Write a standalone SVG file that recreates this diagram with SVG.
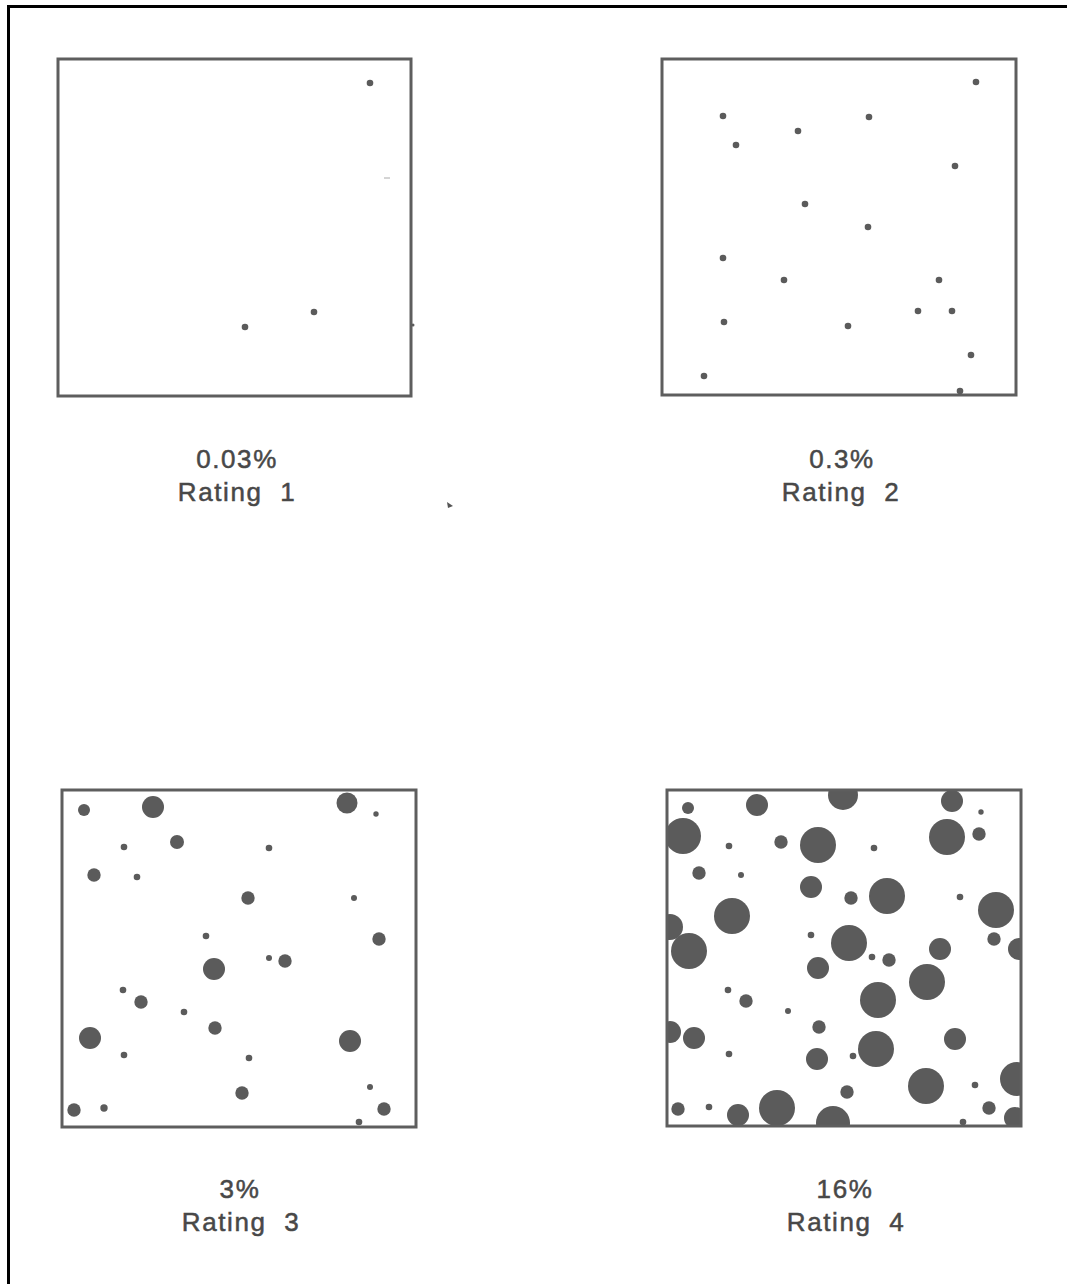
<svg xmlns="http://www.w3.org/2000/svg" width="1067" height="1284" viewBox="0 0 1067 1284">
<style>
.frame{stroke:#000;stroke-width:3;fill:none}
.box{fill:none;stroke:#5e5e5e;stroke-width:3}
.dot{fill:#5b5b5b}
.lbl{font-family:"Liberation Sans",Arial,sans-serif;font-size:26px;fill:#484848;stroke:#484848;stroke-width:0.5;text-anchor:middle;letter-spacing:1.6px;white-space:pre}
</style>
<defs>
<clipPath id="c3"><rect x="62" y="790" width="354" height="337"/></clipPath>
<clipPath id="c4"><rect x="667" y="790" width="354" height="336"/></clipPath>
</defs>
<rect width="1067" height="1284" fill="#fff"/>
<g id="frame">
<line class="frame" x1="7" y1="6.5" x2="1067" y2="6.5"/>
<line class="frame" x1="8.5" y1="5" x2="8.5" y2="1284"/>
</g>
<g id="panel1">
<rect class="box" x="58" y="59" width="353" height="337"/>
<circle class="dot" cx="370" cy="83" r="3.3"/>
<circle class="dot" cx="245" cy="327" r="3.3"/>
<circle class="dot" cx="314" cy="312" r="3.3"/>
<line x1="384" y1="178" x2="390" y2="178" stroke="#aaa" stroke-width="1"/>
<circle class="dot" cx="413" cy="325" r="1.5"/>
<text class="lbl" x="237" y="468">0.03%</text>
<text class="lbl" x="237" y="501">Rating  1</text>
</g>
<path d="M447 502 L453 506 L448 508 Z" fill="#555"/>
<g id="panel2">
<rect class="box" x="662" y="59" width="354" height="336"/>
<g class="dot">
<circle cx="976" cy="82" r="3.3"/>
<circle cx="723" cy="116" r="3.3"/>
<circle cx="869" cy="117" r="3.3"/>
<circle cx="798" cy="131" r="3.3"/>
<circle cx="736" cy="145" r="3.3"/>
<circle cx="955" cy="166" r="3.3"/>
<circle cx="805" cy="204" r="3.3"/>
<circle cx="868" cy="227" r="3.3"/>
<circle cx="723" cy="258" r="3.3"/>
<circle cx="784" cy="280" r="3.3"/>
<circle cx="939" cy="280" r="3.3"/>
<circle cx="918" cy="311" r="3.3"/>
<circle cx="952" cy="311" r="3.3"/>
<circle cx="724" cy="322" r="3.3"/>
<circle cx="848" cy="326" r="3.3"/>
<circle cx="971" cy="355" r="3.3"/>
<circle cx="704" cy="376" r="3.3"/>
<circle cx="960" cy="391" r="3.3"/>
</g>
<text class="lbl" x="842" y="468">0.3%</text>
<text class="lbl" x="841" y="501">Rating  2</text>
</g>
<g id="panel3">
<g class="dot" clip-path="url(#c3)">
<circle cx="84" cy="810" r="6"/>
<circle cx="153" cy="807" r="11"/>
<circle cx="347" cy="803" r="10.5"/>
<circle cx="376" cy="814" r="2.7"/>
<circle cx="124" cy="847" r="3.3"/>
<circle cx="177" cy="842" r="7"/>
<circle cx="269" cy="848" r="3.3"/>
<circle cx="94" cy="875" r="6.7"/>
<circle cx="137" cy="877" r="3.3"/>
<circle cx="248" cy="898" r="6.7"/>
<circle cx="354" cy="898" r="3"/>
<circle cx="206" cy="936" r="3.3"/>
<circle cx="379" cy="939" r="6.7"/>
<circle cx="269" cy="958" r="3"/>
<circle cx="285" cy="961" r="6.7"/>
<circle cx="214" cy="969" r="11"/>
<circle cx="123" cy="990" r="3.3"/>
<circle cx="141" cy="1002" r="6.7"/>
<circle cx="184" cy="1012" r="3.3"/>
<circle cx="215" cy="1028" r="6.7"/>
<circle cx="90" cy="1038" r="11"/>
<circle cx="350" cy="1041" r="11"/>
<circle cx="124" cy="1055" r="3.3"/>
<circle cx="249" cy="1058" r="3.3"/>
<circle cx="242" cy="1093" r="6.7"/>
<circle cx="370" cy="1087" r="3"/>
<circle cx="384" cy="1109" r="6.7"/>
<circle cx="74" cy="1110" r="6.7"/>
<circle cx="104" cy="1108" r="3.7"/>
<circle cx="359" cy="1122" r="3.3"/>
</g>
<rect class="box" x="62" y="790" width="354" height="337"/>
<text class="lbl" x="240" y="1198">3%</text>
<text class="lbl" x="241" y="1231">Rating  3</text>
</g>
<g id="panel4">
<g class="dot" clip-path="url(#c4)">
<circle cx="688" cy="808" r="6"/>
<circle cx="757" cy="805" r="11"/>
<circle cx="843" cy="795" r="15"/>
<circle cx="952" cy="801" r="11"/>
<circle cx="981" cy="812" r="2.7"/>
<circle cx="683" cy="836" r="18"/>
<circle cx="781" cy="842" r="6.7"/>
<circle cx="818" cy="845" r="18"/>
<circle cx="729" cy="846" r="3.3"/>
<circle cx="874" cy="848" r="3.3"/>
<circle cx="947" cy="837" r="18"/>
<circle cx="979" cy="834" r="6.7"/>
<circle cx="699" cy="873" r="6.7"/>
<circle cx="741" cy="875" r="3"/>
<circle cx="811" cy="887" r="11"/>
<circle cx="851" cy="898" r="6.7"/>
<circle cx="887" cy="896" r="18"/>
<circle cx="960" cy="897" r="3.3"/>
<circle cx="996" cy="910" r="18"/>
<circle cx="732" cy="916" r="18"/>
<circle cx="670" cy="927" r="13"/>
<circle cx="689" cy="951" r="18"/>
<circle cx="811" cy="935" r="3.3"/>
<circle cx="849" cy="943" r="18"/>
<circle cx="994" cy="939" r="6.7"/>
<circle cx="1019" cy="949" r="11"/>
<circle cx="940" cy="949" r="11"/>
<circle cx="872" cy="957" r="3.3"/>
<circle cx="889" cy="960" r="6.7"/>
<circle cx="818" cy="968" r="11"/>
<circle cx="927" cy="982" r="18"/>
<circle cx="878" cy="1000" r="18"/>
<circle cx="728" cy="990" r="3.3"/>
<circle cx="746" cy="1001" r="6.7"/>
<circle cx="788" cy="1011" r="3"/>
<circle cx="819" cy="1027" r="6.7"/>
<circle cx="670" cy="1032" r="11"/>
<circle cx="694" cy="1038" r="11"/>
<circle cx="955" cy="1039" r="11"/>
<circle cx="876" cy="1049" r="18"/>
<circle cx="729" cy="1054" r="3.3"/>
<circle cx="853" cy="1056" r="3.3"/>
<circle cx="817" cy="1059" r="11"/>
<circle cx="926" cy="1086" r="18"/>
<circle cx="1017" cy="1079" r="17"/>
<circle cx="847" cy="1092" r="6.7"/>
<circle cx="975" cy="1085" r="3.3"/>
<circle cx="989" cy="1108" r="6.7"/>
<circle cx="678" cy="1109" r="6.7"/>
<circle cx="709" cy="1107" r="3.3"/>
<circle cx="738" cy="1115" r="11"/>
<circle cx="777" cy="1108" r="18"/>
<circle cx="833" cy="1123" r="17"/>
<circle cx="963" cy="1122" r="3.3"/>
<circle cx="1015" cy="1118" r="11"/>
</g>
<rect class="box" x="667" y="790" width="354" height="336"/>
<text class="lbl" x="845" y="1198">16%</text>
<text class="lbl" x="846" y="1231">Rating  4</text>
</g>
</svg>
